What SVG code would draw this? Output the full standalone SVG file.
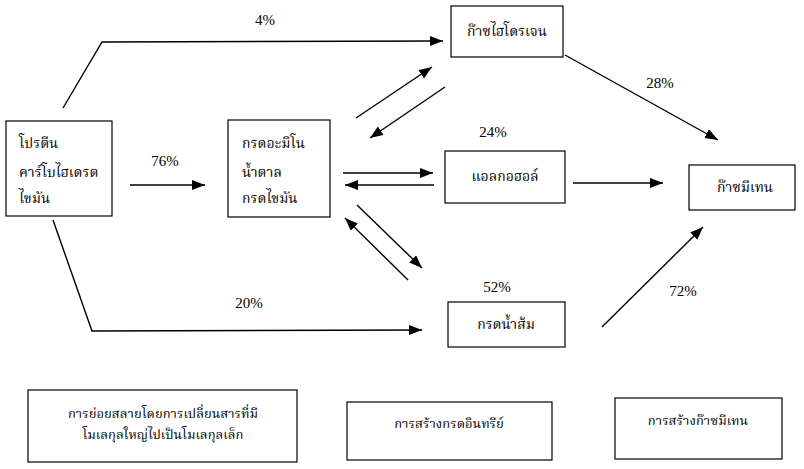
<svg xmlns="http://www.w3.org/2000/svg" width="804" height="469" viewBox="0 0 804 469">
<style>
.box{fill:#fff;stroke:#000;stroke-width:1.2}
.t{font-family:"Noto Serif Thai","Noto Sans Thai","Tlwg Typo","Norasi","Garuda","Loma",serif;font-size:14px;fill:#000}
.s{font-size:13px}
.c{text-anchor:middle}
.p{font-family:"Liberation Serif",serif;font-size:15px;fill:#000;text-anchor:middle}
.ln{fill:none;stroke:#000;stroke-width:1.4}
</style>
<defs>
<marker id="ah" markerUnits="userSpaceOnUse" markerWidth="14" markerHeight="12" refX="13" refY="5" orient="auto">
<path d="M0,0 L13,5 L0,10 Z" fill="#000"/>
</marker>
</defs>
<rect width="804" height="469" fill="#fff"/>
<g id="connectors">
<polyline class="ln" points="63,108 102,42 443,41" marker-end="url(#ah)"/>
<polyline class="ln" points="53,220 92,331 422,330" marker-end="url(#ah)"/>
<line class="ln" x1="130" y1="185" x2="205" y2="185" marker-end="url(#ah)"/>
<line class="ln" x1="356" y1="118" x2="432" y2="67" marker-end="url(#ah)"/>
<line class="ln" x1="445" y1="87" x2="370" y2="138" marker-end="url(#ah)"/>
<line class="ln" x1="343" y1="173" x2="433" y2="173" marker-end="url(#ah)"/>
<line class="ln" x1="434" y1="185" x2="345" y2="185" marker-end="url(#ah)"/>
<line class="ln" x1="357" y1="205" x2="422" y2="268" marker-end="url(#ah)"/>
<line class="ln" x1="408" y1="280" x2="345" y2="218" marker-end="url(#ah)"/>
<line class="ln" x1="565" y1="55" x2="718" y2="140" marker-end="url(#ah)"/>
<line class="ln" x1="573" y1="183" x2="663" y2="183" marker-end="url(#ah)"/>
<line class="ln" x1="602" y1="327" x2="703" y2="227" marker-end="url(#ah)"/>
<text class="p" x="265" y="25">4%</text>
<text class="p" x="660" y="88">28%</text>
<text class="p" x="165" y="166">76%</text>
<text class="p" x="493" y="137">24%</text>
<text class="p" x="249" y="308">20%</text>
<text class="p" x="497" y="292">52%</text>
<text class="p" x="683" y="296">72%</text>
</g>
<g id="n-substrate">
<rect class="box" x="6" y="121" width="106" height="95"/>
<text class="t" x="19" y="148">โปรตีน</text>
<text class="t" x="19" y="177">คาร์โบไฮเดรต</text>
<text class="t" x="19" y="203">ไขมัน</text>
</g>
<g id="n-monomers">
<rect class="box" x="228" y="120" width="102" height="97"/>
<text class="t" x="242" y="148">กรดอะมิโน</text>
<text class="t" x="242" y="177">น้ำตาล</text>
<text class="t" x="242" y="203">กรดไขมัน</text>
</g>
<g id="n-h2">
<rect class="box" x="451" y="6" width="112" height="51"/>
<text class="t c" x="507" y="36">ก๊าซไฮโดรเจน</text>
</g>
<g id="n-alcohol">
<rect class="box" x="445" y="151" width="120" height="52"/>
<text class="t c" x="505" y="181">แอลกอฮอล์</text>
</g>
<g id="n-methane">
<rect class="box" x="689" y="165" width="106" height="45"/>
<text class="t c" x="745" y="192">ก๊าซมีเทน</text>
</g>
<g id="n-acetic">
<rect class="box" x="448" y="302" width="117" height="45"/>
<text class="t c" x="506" y="329">กรดน้ำส้ม</text>
</g>
<g id="legend-hydrolysis">
<rect class="box" x="28" y="390" width="269" height="72"/>
<text class="t s c" x="163" y="418">การย่อยสลายโดยการเปลี่ยนสารที่มี</text>
<text class="t s c" x="163" y="439">โมเลกุลใหญ่ไปเป็นโมเลกุลเล็ก</text>
</g>
<g id="legend-acidogenesis">
<rect class="box" x="347" y="402" width="205" height="58"/>
<text class="t s c" x="449" y="428">การสร้างกรดอินทรีย์</text>
</g>
<g id="legend-methanogenesis">
<rect class="box" x="615" y="398" width="167" height="61"/>
<text class="t s c" x="698" y="425">การสร้างก๊าซมีเทน</text>
</g>
</svg>
